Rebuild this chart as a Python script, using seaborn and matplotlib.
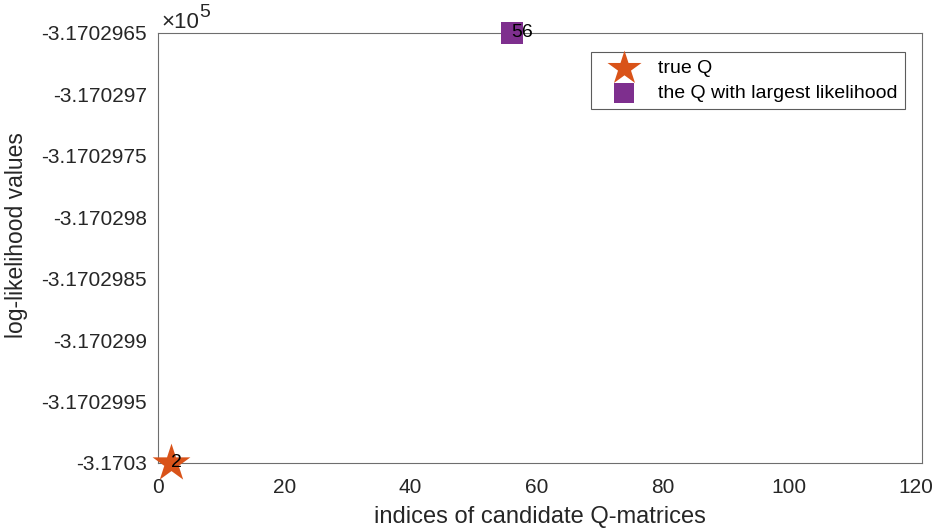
import numpy as np
import pandas as pd
import matplotlib
matplotlib.use("Agg")
import matplotlib.pyplot as plt
import seaborn as sns

# candidate indices and their log-likelihood values
cand_idx = [2, 56]
cand_ll = [-317030.0, -317029.65]
cand_labels = ["2", "56"]

true_idx = [2]
true_ll = [-317030.0]

best_idx = [56]
best_ll = [-317029.65]

y_ticks = [-317030.0, -317029.95, -317029.9, -317029.85, -317029.8,
           -317029.75, -317029.7, -317029.65]

sns.set_style("white")
plt.rcParams['font.family'] = ['Liberation Sans', 'DejaVu Sans']
txt = '#262626'
edge = '#6e6e6e'

fig = plt.figure(figsize=(9.33, 5.31), dpi=100)
ax = fig.add_axes([0.1693, 0.1281, 0.8189, 0.8098])

df = pd.DataFrame({'idx': cand_idx, 'll': cand_ll})
sns.scatterplot(data=df, x='idx', y='ll', ax=ax, color='#0072BD', marker='*',
                s=30, linewidth=0, clip_on=False, zorder=2)

sns.scatterplot(x=true_idx, y=true_ll, ax=ax, color='#D95319', marker='*',
                s=820, linewidth=0, clip_on=False, zorder=4, label='true Q')
sns.scatterplot(x=best_idx, y=best_ll, ax=ax, color='#7E2F8E', marker='s',
                s=250, linewidth=0, clip_on=False, zorder=3,
                label='the Q with largest likelihood')

for xi, yi, lab in zip(cand_idx, cand_ll, cand_labels):
    ax.text(xi, yi, lab, fontsize=14, color='black', ha='left', va='center',
            zorder=5, clip_on=False)

ax.set_xlim(0, 121)
ax.set_ylim(-317030.0, -317029.65)
ax.set_xticks([0, 20, 40, 60, 80, 100, 120])
ax.set_yticks(y_ticks)
ax.set_yticklabels(['{:.8g}'.format(v / 1e5) for v in y_ticks])

ax.tick_params(axis='both', direction='in', length=5, width=0.8,
               colors=edge, labelcolor=txt, labelsize=15)
ax.tick_params(axis='x', pad=11)
ax.tick_params(axis='y', pad=8)
for s in ax.spines.values():
    s.set_color(edge)
    s.set_linewidth(0.8)

ax.set_xlabel('indices of candidate Q-matrices', fontsize=17, color=txt, labelpad=6)
ax.set_ylabel('log-likelihood values', fontsize=16.5, color=txt)
ax.yaxis.set_label_coords(-0.17, 0.53)

# exponent label, MATLAB style
ax.text(0.005, 1.012, '×10', transform=ax.transAxes, fontsize=16,
        color=txt, ha='left', va='baseline')
ax.text(0.054, 1.038, '5', transform=ax.transAxes, fontsize=14,
        color=txt, ha='left', va='baseline')

leg = ax.legend(loc='upper right', bbox_to_anchor=(0.978, 0.956), fontsize=14,
                frameon=True, fancybox=False, borderpad=0.4, handletextpad=0.45,
                labelspacing=0.35, borderaxespad=0, markerscale=0.9,
                handlelength=2.6)
leg.get_frame().set_edgecolor('#333333')
leg.get_frame().set_linewidth(0.8)
for t in leg.get_texts():
    t.set_color('black')

fig.savefig('out.png', dpi=100)
